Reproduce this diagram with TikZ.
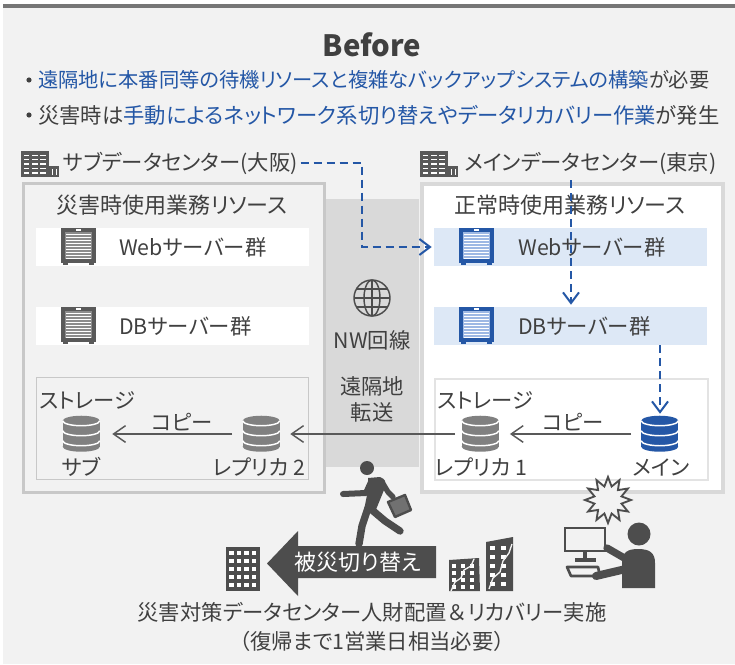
\documentclass[tikz,border=0pt]{standalone}
\usepackage{fontspec}
\setmainfont{Noto Sans CJK JP}[RawFeature={+palt}]
\newfontfamily\fullw{Noto Sans CJK JP}
\usetikzlibrary{arrows.meta}

\definecolor{bg}{HTML}{F2F2F2}
\definecolor{topbar}{HTML}{767676}
\definecolor{txt}{HTML}{404040}
\definecolor{blu}{HTML}{2457A6}
\definecolor{blulight}{HTML}{9DB8E4}
\definecolor{barblue}{HTML}{DDE8F6}
\definecolor{icon}{HTML}{4D4D4D}
\definecolor{rackgray}{HTML}{595959}
\definecolor{rackin}{HTML}{8C8C8C}
\definecolor{cylgray}{HTML}{808080}
\definecolor{band}{HTML}{D9D9D9}
\definecolor{lbox}{HTML}{C8C8C8}
\definecolor{rbox}{HTML}{D9D9D9}
\definecolor{rboxin}{HTML}{E3E3E3}

\newlength{\pxu}
\setlength{\pxu}{0.75pt}

\tikzset{
  lbl/.style={text=txt, inner sep=0pt, font=\fontsize{16}{19}\selectfont},
  ttl/.style={lbl, font=\fontsize{16.5}{20}\selectfont},
  bar/.style={inner sep=0pt, minimum width=273\pxu, minimum height=38\pxu},
  cylslot/.style={inner sep=0pt, minimum width=37\pxu, minimum height=36\pxu},
  flow/.style={draw=blu, line width=1.5pt, dash pattern=on 6pt off 3.75pt,
    -{Straight Barb[length=8pt,width=12pt,line width=1.5pt]}},
  copyline/.style={draw=rackgray, line width=1.1pt,
    -{Straight Barb[length=9pt,width=12.5pt,line width=1.1pt]}},
  pics/rack/.style 2 args={code={
    \fill[#1] (0,0) rectangle (35,35);
    \fill[#1] (2,34) rectangle (7,37);
    \fill[#1] (28,34) rectangle (33,37);
    \fill[#2] (4,4) rectangle (31,31);
    \foreach \k in {0,...,8} \fill[white] (5,{6+\k*3}) rectangle (30,{7+\k*3});
    \fill[white] (15,1) rectangle (20,2.5);
  }},
  pics/cyl/.style={code={
    \fill[#1] (18.5,5) ellipse [x radius=18.5, y radius=5];
    \fill[#1] (0,5) rectangle (37,31);
    \fill[#1] (18.5,31) ellipse [x radius=18.5, y radius=5];
    \foreach \c in {5,15,25}
      \draw[white, line width=1.1pt] (0,\c) arc [start angle=180, end angle=0, x radius=18.5, y radius=5];
  }},
  pics/globe/.style={code={
    \draw[icon, line width=1.1pt] (0,0) circle [radius=18];
    \draw[icon, line width=1.1pt] (0,0) ellipse [x radius=8, y radius=18];
    \draw[icon, line width=1.1pt] (0,-18) -- (0,18) (-18,0) -- (18,0)
      (-15.6,-9) -- (15.6,-9) (-15.6,9) -- (15.6,9);
  }},
  pics/hq/.style={code={
    \fill[rackgray] (0,0) rectangle (28,26);
    \fill[rackgray] (28,15) rectangle (38,26);
    \foreach \r in {0,...,4} \foreach \c in {0,1,2}
      \fill[white] ({2.5+\c*8.3},{3.5+\r*4.4}) rectangle ({8.3+\c*8.3},{5+\r*4.4});
    \fill[white] (31,18) rectangle (32.2,24);
    \fill[white] (34.5,18) rectangle (35.7,24);
  }},
}

\begin{document}
\begin{tikzpicture}[x=0.75pt,y=-0.75pt]
\useasboundingbox (0,0) rectangle (735,664);
\fill[white] (0,0) rectangle (735,664);
\fill[bg] (3,4) rectangle (735,664);
\fill[topbar] (3,4) rectangle (735,8);

% heading and bullet points
\node[inner sep=0pt, text=txt, font=\bfseries\fontsize{22}{26}\selectfont] (title) at (372,45) {Before};
\fill[txt] (29,80) circle [radius=2.6];
\node[lbl, anchor=west, font=\fontsize{15.2}{18}\selectfont] (b1) at (38,80)
  {{\color{blu}遠隔地に本番同等の待機リソースと複雑なバックアップシステムの構築}が必要};
\fill[txt] (29,115) circle [radius=2.6];
\node[lbl, anchor=west] (b2) at (38,115)
  {災害時は{\color{blu}手動によるネットワーク系切り替えやデータリカバリー作業}が発生};

% network band between the sites
\fill[band] (323,199) rectangle (419,467);

% site frames
\node[draw=lbox, line width=2.25pt, fill=bg, inner sep=0pt, anchor=north west,
  minimum width=301\pxu, minimum height=309\pxu] (lsite) at (21.5,181.5) {};
\node[draw=rbox, line width=3pt, fill=white, inner sep=0pt, anchor=north west,
  minimum width=301\pxu, minimum height=308\pxu] (rsite) at (420,182) {};

% site headers
\pic at (21,151) {hq};
\node[lbl, anchor=west] (lhdr) at (63,163) {サブデータセンター(大阪)};
\pic at (420,151) {hq};
\node[lbl, anchor=west] (rhdr) at (464,163) {メインデータセンター(東京)};

\node[ttl] (ltitle) at (172,205) {災害時使用業務リソース};
\node[ttl] (rtitle) at (570,205) {正常時使用業務リソース};

% server rows
\node[bar, fill=white] (lweb) at (172.5,247) {};
\node[bar, fill=white] (ldb) at (172.5,326) {};
\node[bar, fill=barblue] (rweb) at (570.5,247) {};
\node[bar, fill=barblue] (rdb) at (570.5,326) {};
\pic at (61,228) {rack={rackgray}{rackin}};
\pic at (61,307) {rack={rackgray}{rackin}};
\pic at (459,228) {rack={blu}{blulight}};
\pic at (459,307) {rack={blu}{blulight}};
\node[lbl, anchor=west] (lwebt) at (119,247) {Webサーバー群};
\node[lbl, anchor=west] (ldbt) at (119,326) {DBサーバー群};
\node[lbl, anchor=west] (rwebt) at (518,247) {Webサーバー群};
\node[lbl, anchor=west] (rdbt) at (518,326) {DBサーバー群};

% storage frames
\node[draw=lbox, line width=0.9pt, inner sep=0pt, anchor=north west,
  minimum width=272\pxu, minimum height=102\pxu] (lstore) at (36,377) {};
\node[draw=rboxin, line width=1.2pt, fill=white, inner sep=0pt, anchor=north west,
  minimum width=273\pxu, minimum height=101\pxu] (rstore) at (434,378) {};
\node[lbl] (lstl) at (87,400) {ストレージ};
\node[lbl] (rstl) at (485,400) {ストレージ};

% storage volumes
\node[cylslot] (sub) at (81.5,434) {};
\node[cylslot] (rep2) at (261.5,434) {};
\node[cylslot] (rep1) at (480.5,434) {};
\node[cylslot] (main) at (660,434) {};
\pic at (sub.north west) {cyl=cylgray};
\pic at (rep2.north west) {cyl=cylgray};
\pic at (rep1.north west) {cyl=cylgray};
\pic at (main.north west) {cyl=blu};
\node[lbl] (subl) at (81,467) {サブ};
\node[lbl] (rep2l) at (259,467) {レプリカ 2};
\node[lbl] (rep1l) at (481,467) {レプリカ 1};
\node[lbl] (mainl) at (661,467) {メイン};

% replication arrows
\draw[copyline, shorten <=7.5pt, shorten >=8pt] (main.west) -- (rep1.east);
\draw[copyline, shorten <=5pt, shorten >=7.5pt] (rep1.west) -- (rep2.east);
\draw[copyline, shorten <=8pt, shorten >=9pt] (rep2.west) -- (sub.east);
\node[lbl] (copyl) at (182,422) {コピー};
\node[lbl] (copyr) at (573,422) {コピー};

% network line
\node[inner sep=0pt, minimum size=36\pxu] (globe) at (372,298) {};
\pic at (globe.center) {globe};
\node[lbl] (nw) at (372,340) {NW回線};
\node[lbl, align=center, font=\fontsize{16}{19.5}\selectfont] (xfer) at (372,399) {遠隔地\\転送};

% dashed request flow
\coordinate (turn) at (362,205);
\draw[flow] ([xshift=2pt]lhdr.east) -| (turn) |- ([xshift=-1.5pt]rweb.west);
\coordinate (drop) at (571,180);
\draw[flow] (drop) -- ([yshift=1.5pt]rdb.north -| drop);
\draw[flow] (rdb.south -| main.north) -- ([yshift=1.5pt]main.north);

% running person with briefcase
\fill[icon] (367,468) circle [radius=7];
\fill[icon] (368,478) -- (380,477) .. controls (386,480) .. (384,490) -- (375,512) -- (364,510) -- (368,490) -- cycle;
\draw[icon, line width=4.5pt, line cap=round, line join=round] (371,482) -- (366,493) -- (343,494);
\draw[icon, line width=4pt, line cap=round, line join=round] (382,482) -- (388,492) -- (393,497);
\draw[icon, line width=5.5pt, line cap=round, line join=round] (368,508) -- (362,526) -- (359,544);
\draw[icon, line width=5.5pt, line cap=round, line join=round] (372,510) -- (385,521) -- (400,531);
\draw[icon, line width=1.8pt, line join=round, fill=icon!80] (388,502) -- (405,495) -- (411,510) -- (395,517) -- cycle;

% failover arrow
\fill[icon] (267,563.5) -- (298,531) -- (298,546) -- (436,546) -- (436,578) -- (298,578) -- (298,596) -- cycle;
\node[lbl, text=white, font=\fontsize{16.5}{20}\selectfont] (swl) at (358,562) {被災切り替え};

% backup building
\fill[icon] (226,547) rectangle (260,591);
\foreach \c in {0,...,3} \foreach \r in {0,...,4}
  \fill[white] ({229+\c*7.6},{551+\r*8}) rectangle ({233.5+\c*7.6},{554.5+\r*8});

% damaged buildings
\fill[icon] (449,560) -- (479,558) -- (480,591) -- (449,591) -- cycle;
\foreach \c in {0,1,2} \foreach \r in {0,...,3}
  \fill[white] ({452+\c*9},{564+\r*7}) rectangle ({456+\c*9},{568+\r*7});
\draw[bg, line width=1pt] (451,591) -- (455,582) -- (461,578) -- (464,570) -- (471,566) -- (474,559);
\fill[icon] (486,542) -- (513,537) -- (513,591) -- (486,591) -- cycle;
\foreach \c in {0,1} \foreach \r in {0,...,4}
  \fill[white] ({490+\c*11},{546+\r*9}) rectangle ({495+\c*11},{550+\r*9});
\draw[bg, line width=1pt] (489,589) -- (493,578) -- (500,572) -- (503,561) -- (509,553) -- (512,544);

% operator at the failing terminal
\draw[icon, line width=1.4pt, fill=bg, line join=miter]
  plot[samples at={0,...,23}, variable=\k]
  ({608+(mod(\k,2)==0 ? 23 : 14)*cos(\k*15)}, {500+(mod(\k,2)==0 ? 23 : 14)*sin(\k*15)}) -- cycle;
\draw[icon, line width=2.2pt] (565,528) rectangle (605,551);
\fill[icon] (583,551) rectangle (587,559);
\fill[icon] (575,558) rectangle (596,562);
\draw[icon, line width=2pt, line join=round] (567,567) -- (598,567) -- (600,576) -- (571,576) -- cycle;
\fill[icon] (639,534) circle [radius=11.5];
\fill[icon] (622,588) -- (622,563) .. controls (622,552) and (628,549) .. (638,549)
  .. controls (650,549) and (655,553) .. (655,563) -- (655,588) -- cycle;
\draw[icon, line width=5.5pt, line cap=round] (626,559) -- (607,548);
\draw[icon, line width=6pt, line cap=round] (630,568) -- (596,576);

% closing note
\node[lbl, align=center, font=\fontsize{16}{21.75}\selectfont] (note) at (372,627)
  {災害対策データセンター人財配置{\fullw ＆}リカバリー実施\\{\fullw （}復帰まで1営業日相当必要{\fullw ）}};
\end{tikzpicture}
\end{document}
